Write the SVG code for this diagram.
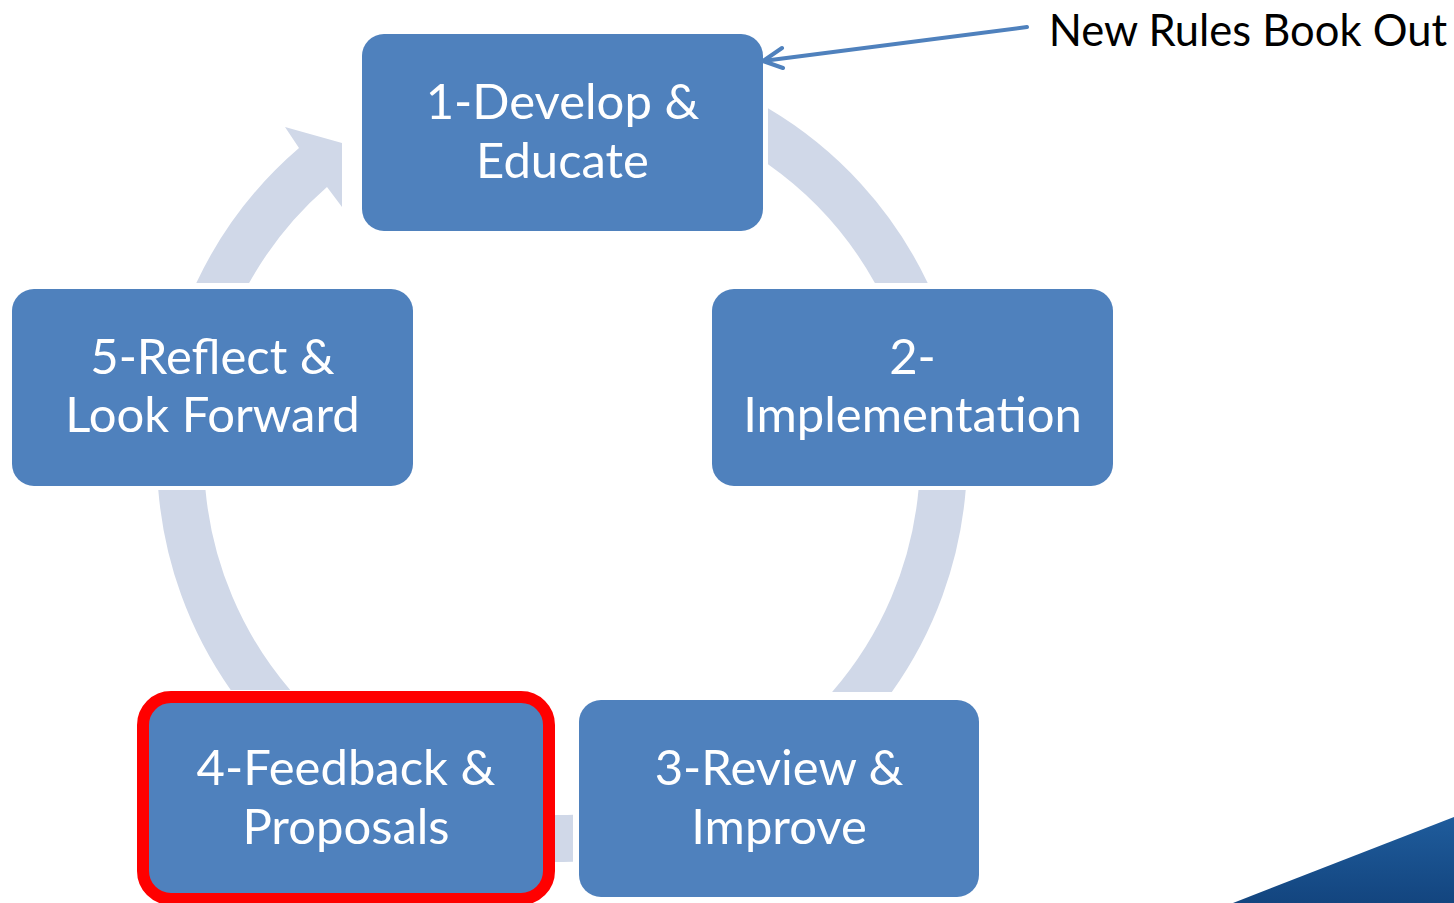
<svg xmlns="http://www.w3.org/2000/svg" width="1454" height="903" viewBox="0 0 1454 903">
<defs>
<style>
.box{fill:#4F81BD;}
.ring{fill:#D0D8E8;}
.lbl{font-family:Lato,"Liberation Sans",sans-serif;font-size:49px;fill:#FFFFFF;text-anchor:middle;}
.note{font-family:Lato,"Liberation Sans",sans-serif;font-size:43.5px;fill:#000000;text-anchor:end;}
.call{stroke:#4F81BD;stroke-width:4;fill:none;stroke-linecap:round;stroke-linejoin:round;}
</style>
<linearGradient id="corner" x1="0" y1="0" x2="0" y2="1">
<stop offset="0" stop-color="#1F5C9C"/>
<stop offset="1" stop-color="#13457F"/>
</linearGradient>
</defs>
<rect width="1454" height="903" fill="#FFFFFF"/>
<polygon points="1233,903 1454,817 1454,903" fill="url(#corner)"/>
<g id="connectors">
<path id="c1-2" class="ring" d="M768,108.3 A405,405 0 0 1 927.7,283 L874.9,283 A358,358 0 0 0 768,164.2 Z"/>
<path id="c2-3" class="ring" d="M965.7,490 A405,405 0 0 1 891.8,692 L832.1,692 A358,358 0 0 0 918.5,490 Z"/>
<path id="c3-4" class="ring" d="M555,814.9 L555,861.9 A405,405 0 0 0 573,861.85 L573,814.8 A358,358 0 0 1 555,814.9 Z"/>
<path id="c4-5" class="ring" d="M290.2,690 L230.7,690 A405,405 0 0 1 158.3,490 L205.5,490 A358,358 0 0 0 290.2,690 Z"/>
<path id="c5-1" class="ring" d="M196.3,283 A405,405 0 0 1 299,148 L285,127 L342,143 L342,207 L327,187 A358,358 0 0 0 249.1,283 Z"/>
<g id="callout">
<line class="call" x1="1027" y1="27" x2="763" y2="61"/>
<polyline class="call" points="782,48 763,61 783,68"/>
</g>
</g>
<g id="node1">
<rect class="box" x="362" y="34" width="401" height="197" rx="22"/>
<text class="lbl" x="562.5" y="119">1-Develop &amp;</text>
<text class="lbl" x="562.5" y="178">Educate</text>
</g>
<g id="node2">
<rect class="box" x="712" y="289" width="401" height="197" rx="22"/>
<text class="lbl" x="912.5" y="374">2-</text>
<text class="lbl" x="912.5" y="432">Implementation</text>
</g>
<g id="node3">
<rect class="box" x="579" y="700" width="400" height="197" rx="22"/>
<text class="lbl" x="779" y="785">3-Review &amp;</text>
<text class="lbl" x="779" y="844">Improve</text>
</g>
<g id="node4">
<rect class="box" x="143" y="697" width="406" height="202" rx="28" stroke="#FF0000" stroke-width="12"/>
<text class="lbl" x="346" y="785">4-Feedback &amp;</text>
<text class="lbl" x="346" y="844">Proposals</text>
</g>
<g id="node5">
<rect class="box" x="12" y="289" width="401" height="197" rx="22"/>
<text class="lbl" x="212.5" y="374">5-Reflect &amp;</text>
<text class="lbl" x="212.5" y="432">Look Forward</text>
</g>
<g id="note">
<text class="note" x="1447" y="46">New Rules Book Out</text>
</g>
</svg>
